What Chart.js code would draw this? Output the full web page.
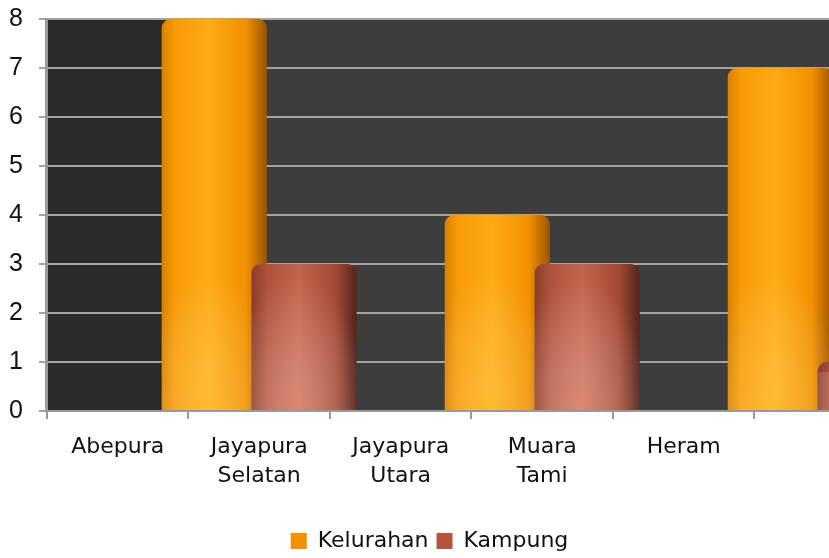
<!DOCTYPE html>
<html>
<head>
<meta charset="utf-8">
<script src="https://cdn.jsdelivr.net/npm/chart.js@4"></script>
<style>
  body { margin: 0; background: #fff; }
  #wrap { width: 829px; height: 558px; overflow: hidden; }
</style>
</head>
<body>
<div id="wrap"><canvas id="myChart" width="900" height="558"></canvas></div>
<script>
// data
var categories = [['Abepura'], ['Jayapura', 'Selatan'], ['Jayapura', 'Utara'], ['Muara', 'Tami'], ['Heram'], ''];
var kelurahan = [null, 8, null, 4, null, 7];
var kampung = [null, 3, null, 3, null, 1];
var seriesNames = ['Kelurahan', 'Kampung'];
var yMax = 8;

var solid = ['#f29000', '#b5533b'];
var stops = [
  [[0, '#d88000'], [0.12, '#f79a06'], [0.45, '#ffab14'], [0.8, '#f29000'], [1, '#9a5400']],
  [[0, '#8a3c2a'], [0.15, '#b0533c'], [0.45, '#c2644c'], [0.8, '#a44a34'], [1, '#54241a']]
];
// light glow toward the foot of each bar
var glow = ['rgba(255,220,110,0.32)', 'rgba(255,190,170,0.4)'];

// plot background: darker side wall on the left, grey back wall
var backdrop = {
  id: 'backdrop',
  beforeDraw: function(chart) {
    var a = chart.chartArea, c = chart.ctx, x = chart.scales.x;
    c.save();
    c.fillStyle = '#3d3d3d';
    c.fillRect(a.left, a.top, a.right - a.left, a.bottom - a.top);
    c.fillStyle = '#2a2a2a';
    c.fillRect(a.left, a.top, x.getPixelForValue(1) - a.left, a.bottom - a.top);
    c.restore();
  },
  // shading per bar, and draw series in order so Kampung sits on top
  beforeDatasetsDraw: function(chart) {
    var c = chart.ctx;
    chart.data.datasets.forEach(function(ds, i) {
      var meta = chart.getDatasetMeta(i);
      meta.data.forEach(function(el) {
        if (!isFinite(el.x) || !isFinite(el.width)) return;
        var g = c.createLinearGradient(el.x - el.width / 2, 0, el.x + el.width / 2, 0);
        stops[i].forEach(function(s) { g.addColorStop(s[0], s[1]); });
        el.options.backgroundColor = g;
      });
      meta.controller.draw();
      meta.data.forEach(function(el) {
        if (!isFinite(el.x) || !isFinite(el.y) || el.base - el.y < 12) return;
        var w = el.width, h = el.base - el.y - 10, sy = 1.8;
        c.save();
        c.beginPath();
        c.rect(el.x - w / 2, el.y + 10, w, h);
        c.clip();
        c.translate(el.x - w * 0.08, el.base);
        c.scale(1, sy);
        var r = c.createRadialGradient(0, 0, 0, 0, 0, w * 0.7);
        r.addColorStop(0, glow[i]);
        r.addColorStop(1, 'rgba(255,255,255,0)');
        c.fillStyle = r;
        c.fillRect(-w, -h / sy - 2, w * 2, h / sy + 2);
        c.restore();
      });
    });
    return false;
  },
  // legend in the original chart is centred a bit further left
  afterUpdate: function(chart) {
    var lg = chart.legend;
    lg.left -= 15;
    lg.right -= 15;
    lg.adjustHitBoxes();
  }
};

var chartData = {
  labels: categories,
  datasets: [{
    label: seriesNames[0],
    data: kelurahan,
    backgroundColor: function() { return solid[0]; },
    borderRadius: { topLeft: 9, topRight: 9 },
    borderSkipped: 'bottom'
  }, {
    label: seriesNames[1],
    data: kampung,
    backgroundColor: function() { return solid[1]; },
    borderRadius: { topLeft: 9, topRight: 9 },
    borderSkipped: 'bottom'
  }]
};

var chartOptions = {
  responsive: false,
  animation: false,
  categoryPercentage: 1.27,
  barPercentage: 1.17,
  layout: { padding: { left: -7, top: 19, right: 4, bottom: -4 } },
  plugins: {
    tooltip: { enabled: false },
    legend: {
      position: 'bottom',
      labels: {
        boxWidth: 16,
        boxHeight: 16,
        padding: 8,
        color: '#111',
        font: { family: 'DejaVu Sans', size: 22 }
      }
    }
  },
  scales: {
    x: {
      offset: true,
      grid: { offset: true, drawOnChartArea: false, tickLength: 8, color: '#9a9a9a', lineWidth: 2 },
      border: { color: '#9a9a9a', width: 2 },
      ticks: {
        padding: 14,
        autoSkip: false,
        maxRotation: 0,
        color: '#111',
        font: { family: 'DejaVu Sans', size: 22, lineHeight: 1.3 }
      },
      afterFit: function(scale) { scale.height = 111; }
    },
    y: {
      min: 0,
      max: yMax,
      grid: { color: '#a4a4a4', lineWidth: 2, tickLength: 8 },
      border: { color: '#9a9a9a', width: 3 },
      ticks: {
        stepSize: 1,
        padding: 16,
        color: '#111',
        font: { family: 'Liberation Sans', size: 25 }
      },
      afterFit: function(scale) { scale.paddingTop = 0; scale.paddingBottom = 0; }
    }
  }
};

var element = document.getElementById('myChart').getContext('2d');
var chart = new Chart(element, { type: 'bar', data: chartData, options: chartOptions, plugins: [backdrop] });
</script>
</body>
</html>
